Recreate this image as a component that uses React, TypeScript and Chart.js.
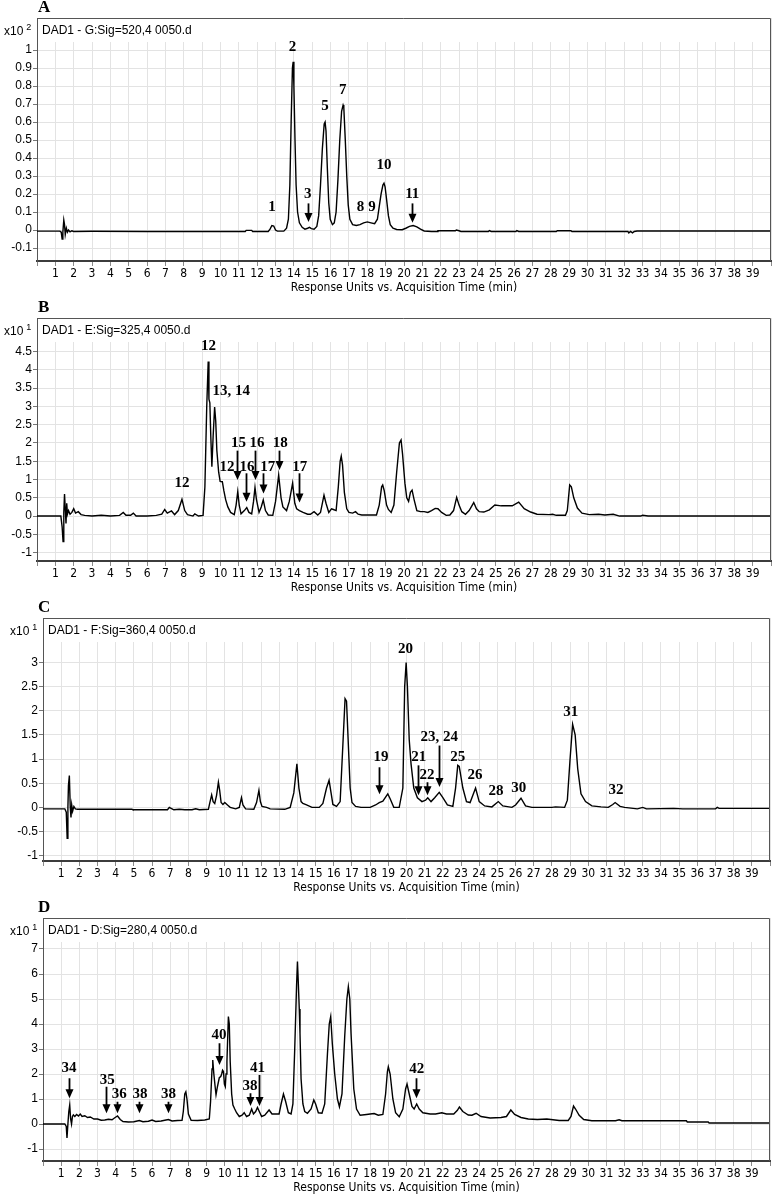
import React, { useEffect, useRef } from 'react';
import { Chart, registerables } from 'chart.js';

Chart.register(...registerables);

// ---------- tick labels ----------
const timeTickLabels = [
  1, 2, 3, 4, 5, 6, 7, 8, 9, 10, 11, 12, 13, 14, 15, 16, 17, 18, 19, 20,
  21, 22, 23, 24, 25, 26, 27, 28, 29, 30, 31, 32, 33, 34, 35, 36, 37, 38, 39,
];
const yTicksA = [-0.1, 0, 0.1, 0.2, 0.3, 0.4, 0.5, 0.6, 0.7, 0.8, 0.9, 1];
const yTicksB = [-1, -0.5, 0, 0.5, 1, 1.5, 2, 2.5, 3, 3.5, 4, 4.5];
const yTicksC = [-1, -0.5, 0, 0.5, 1, 1.5, 2, 2.5, 3];
const yTicksD = [-1, 0, 1, 2, 3, 4, 5, 6, 7];

// ---------- traces: [time (min), response] ----------
const traceA: [number, number][] = [
  [0, -0.006], [1.25, -0.006], [1.32, -0.012], [1.37, -0.05], [1.41, -0.01], [1.46, 0.055],
  [1.5, 0.03], [1.54, -0.025], [1.6, 0.01], [1.66, -0.012], [1.72, 0.0], [1.8, -0.01],
  [1.9, -0.004], [2.0, -0.008], [3, -0.007], [6, -0.008], [11.35, -0.008], [11.4, -0.002],
  [11.7, -0.002], [11.75, -0.008], [12.6, -0.008], [12.7, 0.005], [12.8, 0.025], [12.9, 0.022],
  [13.0, 0.0], [13.1, -0.006], [13.45, -0.006], [13.6, 0.01], [13.7, 0.06], [13.78, 0.25],
  [13.85, 0.6], [13.92, 0.9], [13.96, 0.935], [14.0, 0.8], [14.06, 0.5], [14.12, 0.25],
  [14.2, 0.1], [14.3, 0.04], [14.45, 0.015], [14.6, 0.005], [14.75, 0.01], [14.85, 0.015],
  [14.95, 0.008], [15.1, 0.005], [15.25, 0.02], [15.35, 0.08], [15.45, 0.25], [15.55, 0.45],
  [15.65, 0.59], [15.7, 0.6], [15.75, 0.55], [15.82, 0.35], [15.9, 0.15], [15.98, 0.06],
  [16.1, 0.03], [16.2, 0.04], [16.3, 0.1], [16.4, 0.28], [16.5, 0.5], [16.6, 0.66],
  [16.68, 0.694], [16.72, 0.68], [16.8, 0.5], [16.88, 0.3], [16.96, 0.14], [17.05, 0.06],
  [17.2, 0.03], [17.4, 0.025], [17.6, 0.03], [17.8, 0.04], [18.0, 0.045], [18.2, 0.04],
  [18.4, 0.035], [18.55, 0.06], [18.65, 0.13], [18.75, 0.2], [18.85, 0.25], [18.91, 0.26],
  [18.97, 0.24], [19.05, 0.17], [19.15, 0.08], [19.25, 0.03], [19.4, 0.01], [19.6, 0.003],
  [19.9, 0.002], [20.1, 0.01], [20.3, 0.02], [20.5, 0.025], [20.7, 0.018], [20.9, 0.005],
  [21.1, -0.005], [21.5, -0.008], [21.8, -0.008], [21.85, -0.004], [22.8, -0.004], [22.85, 0.0],
  [23.0, -0.004], [23.1, -0.008], [24.6, -0.008], [24.65, -0.003], [24.75, -0.008], [26.1, -0.008],
  [26.15, -0.003], [26.25, -0.008], [28.3, -0.008], [28.35, -0.004], [29.1, -0.004], [29.15, -0.008],
  [32.2, -0.008], [32.25, -0.016], [32.35, -0.008], [32.45, -0.016], [32.55, -0.008], [32.7, -0.005],
  [40, -0.005],
];

const traceB: [number, number][] = [
  [0, 0.0], [1.3, 0.0], [1.37, -0.3], [1.42, -0.7], [1.46, 0.1], [1.5, 0.6], [1.54, 0.2],
  [1.58, -0.2], [1.62, 0.35], [1.66, 0.05], [1.72, 0.15], [1.8, 0.05], [1.9, 0.1], [2.0, 0.2],
  [2.1, 0.08], [2.25, 0.12], [2.4, 0.04], [2.6, 0.02], [3.0, 0.0], [3.5, 0.02], [4.0, 0.0],
  [4.5, 0.02], [4.7, 0.1], [4.85, 0.02], [5.1, 0.02], [5.25, 0.08], [5.4, 0.0], [6.0, 0.0],
  [6.5, 0.02], [6.8, 0.05], [6.96, 0.18], [7.1, 0.08], [7.33, 0.14], [7.5, 0.04], [7.7, 0.15],
  [7.9, 0.46], [8.05, 0.15], [8.2, 0.04], [8.5, 0.0], [8.6, 0.06], [8.8, 0.0], [9.05, 0.02],
  [9.15, 0.8], [9.25, 3.0], [9.33, 4.23], [9.37, 3.2], [9.42, 3.1], [9.47, 2.2], [9.53, 1.35],
  [9.6, 2.2], [9.68, 2.98], [9.74, 2.6], [9.8, 1.8], [9.9, 1.2], [9.98, 0.95], [10.1, 0.94],
  [10.18, 0.7], [10.28, 0.45], [10.4, 0.25], [10.55, 0.1], [10.75, 0.04], [10.85, 0.3],
  [10.94, 0.67], [11.02, 0.3], [11.12, 0.06], [11.3, 0.15], [11.43, 0.23], [11.55, 0.1],
  [11.7, 0.06], [11.8, 0.4], [11.88, 0.78], [11.96, 0.45], [12.1, 0.1], [12.22, 0.25],
  [12.33, 0.44], [12.45, 0.15], [12.6, 0.03], [12.85, 0.02], [13.0, 0.4], [13.17, 1.12],
  [13.3, 0.5], [13.4, 0.25], [13.6, 0.15], [13.75, 0.4], [13.93, 0.9], [14.05, 0.35],
  [14.15, 0.2], [14.3, 0.15], [14.5, 0.1], [14.75, 0.05], [14.9, 0.05], [15.1, 0.12],
  [15.3, 0.03], [15.45, 0.1], [15.55, 0.35], [15.64, 0.57], [15.75, 0.35], [15.9, 0.1],
  [16.05, 0.2], [16.15, 0.18], [16.3, 0.15], [16.42, 0.8], [16.52, 1.5], [16.58, 1.64],
  [16.65, 1.4], [16.75, 0.65], [16.88, 0.2], [17.0, 0.1], [17.2, 0.08], [17.36, 0.12],
  [17.5, 0.05], [17.7, 0.03], [18.5, 0.03], [18.65, 0.3], [18.78, 0.8], [18.84, 0.85],
  [18.92, 0.7], [19.05, 0.3], [19.15, 0.18], [19.3, 0.1], [19.45, 0.3], [19.6, 1.2],
  [19.75, 2.0], [19.84, 2.08], [19.92, 1.7], [20.05, 0.9], [20.15, 0.5], [20.25, 0.4],
  [20.35, 0.65], [20.44, 0.71], [20.55, 0.45], [20.7, 0.15], [20.9, 0.12], [21.1, 0.12],
  [21.3, 0.1], [21.5, 0.15], [21.7, 0.21], [21.85, 0.2], [22.05, 0.1], [22.3, 0.02],
  [22.5, 0.03], [22.7, 0.15], [22.87, 0.51], [23.0, 0.3], [23.15, 0.12], [23.35, 0.05],
  [23.55, 0.15], [23.8, 0.37], [23.95, 0.2], [24.1, 0.12], [24.35, 0.11], [24.65, 0.17],
  [24.95, 0.3], [25.3, 0.28], [25.9, 0.28], [26.25, 0.38], [26.55, 0.2], [26.9, 0.11],
  [27.25, 0.05], [27.9, 0.04], [28.1, 0.05], [28.3, 0.02], [28.8, 0.02], [28.9, 0.15],
  [29.03, 0.85], [29.12, 0.8], [29.25, 0.5], [29.45, 0.22], [29.7, 0.08], [30.1, 0.04],
  [30.6, 0.05], [30.95, 0.03], [31.4, 0.05], [31.75, 0.0], [32.9, 0.0], [33.0, 0.02],
  [33.3, 0.0], [40, 0.0],
];

const traceC: [number, number][] = [
  [0, -0.03], [1.2, -0.03], [1.28, -0.1], [1.33, -0.64], [1.37, 0.0], [1.4, 0.45], [1.45, 0.66],
  [1.5, 0.0], [1.54, -0.21], [1.58, 0.05], [1.63, -0.08], [1.7, 0.02], [1.78, -0.03],
  [1.9, -0.04], [4.9, -0.04], [4.95, -0.05], [6.85, -0.05], [6.95, 0.0], [7.1, -0.03],
  [7.2, -0.05], [7.5, -0.04], [7.8, -0.05], [8.2, -0.05], [8.4, -0.03], [8.6, -0.05],
  [9.1, -0.04], [9.18, 0.1], [9.28, 0.26], [9.36, 0.12], [9.45, 0.08], [9.55, 0.25],
  [9.65, 0.52], [9.72, 0.35], [9.8, 0.1], [9.9, 0.06], [10.0, 0.1], [10.15, 0.05], [10.3, 0.0],
  [10.6, -0.03], [10.8, 0.0], [10.92, 0.2], [11.0, 0.05], [11.15, -0.03], [11.6, -0.04],
  [11.75, 0.1], [11.88, 0.35], [11.96, 0.12], [12.05, 0.02], [12.3, 0.0], [12.5, -0.03],
  [13.3, -0.04], [13.6, 0.0], [13.8, 0.3], [13.97, 0.9], [14.08, 0.4], [14.2, 0.12],
  [14.3, 0.08], [14.5, 0.05], [14.8, 0.0], [15.2, 0.0], [15.4, 0.08], [15.6, 0.4],
  [15.74, 0.56], [15.85, 0.3], [15.95, 0.06], [16.15, 0.02], [16.35, 0.12], [16.5, 1.3],
  [16.62, 2.25], [16.7, 2.2], [16.8, 1.3], [16.9, 0.4], [17.0, 0.1], [17.2, 0.02], [17.5, 0.0],
  [18.0, 0.0], [18.3, 0.05], [18.5, 0.1], [18.7, 0.13], [18.97, 0.28], [19.1, 0.18],
  [19.3, 0.0], [19.6, 0.0], [19.8, 0.4], [19.9, 2.5], [19.98, 3.0], [20.05, 2.5], [20.15, 1.4],
  [20.25, 0.9], [20.4, 0.4], [20.6, 0.2], [20.85, 0.12], [21.05, 0.15], [21.17, 0.2],
  [21.35, 0.12], [21.55, 0.2], [21.8, 0.31], [22.0, 0.2], [22.25, 0.05], [22.55, 0.02],
  [22.7, 0.4], [22.82, 0.87], [22.9, 0.85], [23.1, 0.4], [23.3, 0.12], [23.5, 0.1],
  [23.8, 0.4], [24.0, 0.12], [24.3, 0.03], [24.7, 0.01], [25.05, 0.12], [25.3, 0.03],
  [25.8, 0.0], [26.0, 0.05], [26.3, 0.19], [26.55, 0.03], [26.9, 0.0], [28.0, 0.0],
  [28.2, 0.01], [28.7, 0.0], [28.85, 0.15], [29.0, 1.0], [29.14, 1.72], [29.28, 1.5],
  [29.42, 0.8], [29.6, 0.28], [29.85, 0.12], [30.2, 0.03], [30.7, 0.01], [31.1, 0.0],
  [31.35, 0.06], [31.48, 0.1], [31.75, 0.02], [32.0, 0.0], [32.7, -0.03], [33.0, 0.0],
  [33.2, -0.03], [34.7, -0.02], [35.2, -0.03], [37.0, -0.03], [37.1, 0.0], [37.2, -0.02],
  [40, -0.02],
];

const traceD: [number, number][] = [
  [0, 0.0], [1.2, 0.0], [1.28, -0.1], [1.32, -0.56], [1.37, 0.0], [1.42, 0.5], [1.47, 0.76],
  [1.52, 0.2], [1.57, 0.0], [1.62, 0.3], [1.67, 0.36], [1.75, 0.3], [1.85, 0.38], [1.95, 0.32],
  [2.05, 0.4], [2.15, 0.3], [2.3, 0.33], [2.45, 0.26], [2.6, 0.28], [2.8, 0.2], [3.0, 0.2],
  [3.2, 0.15], [3.4, 0.16], [3.6, 0.19], [3.8, 0.17], [3.95, 0.25], [4.1, 0.32], [4.25, 0.18],
  [4.4, 0.1], [4.7, 0.08], [5.0, 0.09], [5.3, 0.14], [5.5, 0.09], [5.8, 0.11], [6.0, 0.16],
  [6.2, 0.1], [6.5, 0.12], [6.9, 0.18], [7.1, 0.12], [7.4, 0.14], [7.65, 0.15], [7.72, 0.5],
  [7.8, 1.2], [7.86, 1.29], [7.92, 1.0], [8.0, 0.4], [8.15, 0.15], [8.5, 0.14], [8.9, 0.16],
  [9.15, 0.2], [9.22, 0.9], [9.3, 2.2], [9.34, 2.56], [9.4, 2.0], [9.47, 1.5], [9.52, 1.17],
  [9.6, 1.5], [9.7, 1.85], [9.78, 1.9], [9.83, 2.0], [9.88, 2.15], [9.93, 2.1], [9.98, 1.6],
  [10.03, 1.5], [10.07, 2.0], [10.12, 2.5], [10.2, 4.3], [10.25, 4.0], [10.3, 2.5],
  [10.38, 1.2], [10.45, 0.76], [10.55, 0.6], [10.65, 0.45], [10.8, 0.3], [10.95, 0.35],
  [11.07, 0.45], [11.2, 0.3], [11.35, 0.35], [11.48, 0.6], [11.58, 0.4], [11.7, 0.5],
  [11.8, 0.66], [11.9, 0.5], [12.03, 0.3], [12.2, 0.35], [12.44, 0.56], [12.6, 0.4],
  [12.8, 0.4], [12.99, 0.4], [13.1, 0.8], [13.23, 1.2], [13.35, 0.9], [13.5, 0.45],
  [13.65, 0.4], [13.75, 0.8], [13.85, 3.0], [13.95, 5.5], [14.0, 6.5], [14.05, 5.6],
  [14.1, 4.6], [14.14, 3.63], [14.2, 1.8], [14.3, 0.8], [14.4, 0.5], [14.55, 0.43],
  [14.75, 0.6], [14.9, 0.96], [15.0, 0.8], [15.15, 0.45], [15.35, 0.43], [15.5, 0.8],
  [15.65, 2.8], [15.75, 4.0], [15.83, 4.3], [15.92, 3.2], [16.05, 2.0], [16.2, 1.0],
  [16.31, 0.69], [16.45, 1.2], [16.6, 3.5], [16.72, 5.0], [16.8, 5.49], [16.88, 5.0],
  [16.95, 3.6], [17.1, 1.4], [17.25, 0.6], [17.45, 0.35], [17.8, 0.38], [18.0, 0.4],
  [18.22, 0.42], [18.45, 0.35], [18.7, 0.38], [18.85, 1.2], [18.95, 2.1], [19.0, 2.29],
  [19.1, 2.0], [19.25, 1.0], [19.4, 0.45], [19.6, 0.29], [19.8, 0.6], [19.95, 1.4],
  [20.03, 1.6], [20.15, 1.2], [20.3, 0.7], [20.42, 0.6], [20.56, 0.8], [20.7, 0.6],
  [20.9, 0.45], [21.3, 0.4], [21.6, 0.4], [21.94, 0.45], [22.2, 0.4], [22.6, 0.4],
  [22.8, 0.55], [22.91, 0.68], [23.1, 0.5], [23.4, 0.36], [23.6, 0.35], [23.83, 0.43],
  [24.1, 0.3], [24.6, 0.24], [25.2, 0.26], [25.5, 0.3], [25.74, 0.56], [25.95, 0.38],
  [26.3, 0.26], [26.7, 0.2], [27.2, 0.18], [27.72, 0.2], [28.4, 0.14], [28.9, 0.14],
  [29.05, 0.3], [29.19, 0.72], [29.3, 0.6], [29.5, 0.35], [29.75, 0.18], [30.2, 0.13],
  [31.5, 0.13], [31.7, 0.17], [31.85, 0.13], [35.4, 0.13], [35.45, 0.08], [36.6, 0.08],
  [36.65, 0.04], [40, 0.04],
];

// ---------- peak annotations (time, response; optional arrow) ----------
type Note = { text: string; t: number; v: number; arrowT?: number; arrowFrom?: number; arrowTo?: number };

const notesA: Note[] = [
  { text: '1', t: 12.8, v: 0.126 },
  { text: '2', t: 13.92, v: 1.018 },
  { text: '3', t: 14.75, v: 0.2, arrowT: 14.75, arrowFrom: 0.148, arrowTo: 0.045 },
  { text: '5', t: 15.7, v: 0.689 },
  { text: '7', t: 16.66, v: 0.778 },
  { text: '8', t: 17.63, v: 0.126 },
  { text: '9', t: 18.25, v: 0.126 },
  { text: '10', t: 18.91, v: 0.361 },
  { text: '11', t: 20.45, v: 0.2, arrowT: 20.45, arrowFrom: 0.148, arrowTo: 0.04 },
];

const notesB: Note[] = [
  { text: '12', t: 7.9, v: 0.91 },
  { text: '12', t: 9.35, v: 4.64 },
  { text: '13, 14', t: 10.58, v: 3.41 },
  { text: '12', t: 10.36, v: 1.35 },
  { text: '15', t: 10.98, v: 1.99, arrowT: 10.91, arrowFrom: 1.79, arrowTo: 0.99 },
  { text: '16', t: 11.45, v: 1.35, arrowT: 11.39, arrowFrom: 1.17, arrowTo: 0.39 },
  { text: '16', t: 11.99, v: 1.99, arrowT: 11.9, arrowFrom: 1.79, arrowTo: 0.99 },
  { text: '17', t: 12.57, v: 1.35, arrowT: 12.33, arrowFrom: 1.17, arrowTo: 0.62 },
  { text: '18', t: 13.26, v: 1.99, arrowT: 13.17, arrowFrom: 1.79, arrowTo: 1.26 },
  { text: '17', t: 14.32, v: 1.35, arrowT: 14.29, arrowFrom: 1.17, arrowTo: 0.37 },
];

const notesC: Note[] = [
  { text: '19', t: 18.6, v: 1.05, arrowT: 18.51, arrowFrom: 0.83, arrowTo: 0.27 },
  { text: '20', t: 19.94, v: 3.27 },
  { text: '21', t: 20.67, v: 1.03, arrowT: 20.62, arrowFrom: 0.87, arrowTo: 0.25 },
  { text: '22', t: 21.13, v: 0.66, arrowT: 21.11, arrowFrom: 0.52, arrowTo: 0.25 },
  { text: '23, 24', t: 21.8, v: 1.45, arrowT: 21.77, arrowFrom: 1.28, arrowTo: 0.42 },
  { text: '25', t: 22.82, v: 1.03 },
  { text: '26', t: 23.77, v: 0.66 },
  { text: '28', t: 24.92, v: 0.34 },
  { text: '30', t: 26.17, v: 0.4 },
  { text: '31', t: 29.04, v: 1.97 },
  { text: '32', t: 31.52, v: 0.36 },
];

const notesD: Note[] = [
  { text: '34', t: 1.43, v: 2.23, arrowT: 1.45, arrowFrom: 1.83, arrowTo: 1.03 },
  { text: '35', t: 3.54, v: 1.76, arrowT: 3.48, arrowFrom: 1.49, arrowTo: 0.43 },
  { text: '36', t: 4.2, v: 1.2, arrowT: 4.08, arrowFrom: 0.89, arrowTo: 0.43 },
  { text: '38', t: 5.34, v: 1.2, arrowT: 5.3, arrowFrom: 0.89, arrowTo: 0.43 },
  { text: '38', t: 6.9, v: 1.2, arrowT: 6.87, arrowFrom: 0.89, arrowTo: 0.43 },
  { text: '40', t: 9.69, v: 3.56, arrowT: 9.69, arrowFrom: 3.23, arrowTo: 2.36 },
  { text: '38', t: 11.39, v: 1.53, arrowT: 11.39, arrowFrom: 1.23, arrowTo: 0.72 },
  { text: '41', t: 11.8, v: 2.23, arrowT: 11.87, arrowFrom: 1.96, arrowTo: 0.72 },
  { text: '42', t: 20.56, v: 2.19, arrowT: 20.53, arrowFrom: 1.83, arrowTo: 1.03 },
];

// ---------- fonts ----------
const SANS = '"Liberation Sans", Arial, sans-serif';
const NARROW = '"Liberation Sans Narrow", "Arial Narrow", "DejaVu Sans Condensed", sans-serif';
const SERIF = '"Liberation Serif", "Times New Roman", serif';

type Panel = {
  letter: string;
  signal: string;
  exponent: string;
  trace: [number, number][];
  yTicks: number[];
  yMin: number;
  yMax: number;
  notes: Note[];
  axisWidth: number;
  rightPad: number;
};

const panels: Panel[] = [
  { letter: 'A', signal: 'DAD1 - G:Sig=520,4 0050.d', exponent: '2', trace: traceA, yTicks: yTicksA, yMin: -0.172, yMax: 1.178, notes: notesA, axisWidth: 37, rightPad: 3 },
  { letter: 'B', signal: 'DAD1 - E:Sig=325,4 0050.d', exponent: '1', trace: traceB, yTicks: yTicksB, yMin: -1.23, yMax: 5.42, notes: notesB, axisWidth: 37, rightPad: 3 },
  { letter: 'C', signal: 'DAD1 - F:Sig=360,4 0050.d', exponent: '1', trace: traceC, yTicks: yTicksC, yMin: -1.11, yMax: 3.92, notes: notesC, axisWidth: 43, rightPad: 4 },
  { letter: 'D', signal: 'DAD1 - D:Sig=280,4 0050.d', exponent: '1', trace: traceD, yTicks: yTicksD, yMin: -1.48, yMax: 8.24, notes: notesD, axisWidth: 43, rightPad: 4 },
];

const HEADER_STRIP = 24;

function ChromatogramPanel({ panel }: { panel: Panel }) {
  const ref = useRef<HTMLCanvasElement | null>(null);

  useEffect(() => {
    const canvas = ref.current;
    if (!canvas) return;

    const overlay = {
      id: 'overlay',
      beforeDatasetsDraw(chart: any) {
        const { ctx, chartArea: a } = chart;
        ctx.save();
        ctx.fillStyle = '#ffffff';
        ctx.fillRect(a.left + 1, a.top, a.right - a.left - 2, HEADER_STRIP);
        ctx.restore();
      },
      afterDatasetsDraw(chart: any) {
        const { ctx, chartArea: a, scales } = chart;
        const xs = scales.x;
        const ys = scales.y;
        ctx.save();
        // frame: top and right edges
        ctx.strokeStyle = '#555555';
        ctx.lineWidth = 1;
        ctx.beginPath();
        ctx.moveTo(a.left, a.top + 0.5);
        ctx.lineTo(a.right - 0.5, a.top + 0.5);
        ctx.lineTo(a.right - 0.5, a.bottom);
        ctx.stroke();

        // header signal text
        ctx.fillStyle = '#000000';
        ctx.textBaseline = 'middle';
        ctx.textAlign = 'left';
        ctx.font = `12px ${SANS}`;
        ctx.fillText(panel.signal, a.left + 5, a.top + 13);

        // exponent "x10^n"
        const ex = a.left - 33;
        ctx.font = `12px ${SANS}`;
        ctx.fillText('x10', ex, a.top + 14);
        const w = ctx.measureText('x10').width;
        ctx.font = `9px ${SANS}`;
        ctx.fillText(panel.exponent, ex + w + 3, a.top + 10);

        // panel letter
        ctx.font = `bold 17px ${SERIF}`;
        ctx.fillText(panel.letter, 38, a.top - 10);

        // peak annotations
        ctx.font = `bold 15px ${SERIF}`;
        ctx.textAlign = 'center';
        for (const n of panel.notes) {
          ctx.fillText(n.text, xs.getPixelForValue(n.t), ys.getPixelForValue(n.v));
          if (n.arrowT !== undefined && n.arrowFrom !== undefined && n.arrowTo !== undefined) {
            const x = Math.round(xs.getPixelForValue(n.arrowT)) + 0.5;
            const y1 = ys.getPixelForValue(n.arrowFrom);
            const y2 = ys.getPixelForValue(n.arrowTo);
            const head = 9;
            ctx.strokeStyle = '#000000';
            ctx.lineWidth = 1.8;
            ctx.beginPath();
            ctx.moveTo(x, y1);
            ctx.lineTo(x, y2 - head + 1);
            ctx.stroke();
            ctx.beginPath();
            ctx.moveTo(x - 4, y2 - head);
            ctx.lineTo(x + 4, y2 - head);
            ctx.lineTo(x, y2);
            ctx.closePath();
            ctx.fill();
          }
        }
        ctx.restore();
      },
    };

    const chart = new Chart(canvas, {
      type: 'line',
      data: {
        datasets: [
          {
            data: panel.trace.map(([t, v]) => ({ x: t, y: v })),
            borderColor: '#000000',
            borderWidth: 1.4,
            pointRadius: 0,
            tension: 0,
            fill: false,
          },
        ],
      },
      options: {
        animation: false,
        responsive: false,
        devicePixelRatio: 1,
        events: [],
        layout: { padding: { top: 18, right: panel.rightPad, bottom: 0, left: 0 } },
        plugins: {
          legend: { display: false },
          tooltip: { enabled: false },
          title: { display: false },
        },
        scales: {
          x: {
            type: 'linear',
            min: 0,
            max: 40,
            afterBuildTicks: (s: any) => {
              s.ticks = Array.from({ length: 41 }, (_, i) => ({ value: i }));
            },
            afterFit: (s: any) => {
              s.height = 39;
            },
            ticks: {
              autoSkip: false,
              maxRotation: 0,
              minRotation: 0,
              padding: 1,
              color: '#000000',
              font: { family: NARROW, size: 12 },
              callback: (v: any) => (timeTickLabels.includes(Number(v)) ? String(v) : ''),
            },
            grid: { color: '#e3e3e3', lineWidth: 1, tickLength: 5, tickColor: '#8a8a8a' },
            border: { display: true, color: '#3c3c3c', width: 2 },
            title: {
              display: true,
              text: 'Response Units vs. Acquisition Time (min)',
              color: '#000000',
              font: { family: NARROW, size: 12 },
              padding: { top: 0, bottom: 5 },
            },
          },
          y: {
            type: 'linear',
            min: panel.yMin,
            max: panel.yMax,
            afterBuildTicks: (s: any) => {
              s.ticks = panel.yTicks.map((v) => ({ value: v }));
            },
            afterFit: (s: any) => {
              s.width = panel.axisWidth;
            },
            ticks: {
              padding: 1,
              color: '#000000',
              font: { family: SANS, size: 12 },
              callback: (v: any) => String(v),
            },
            grid: { color: '#e3e3e3', lineWidth: 1, tickLength: 4, tickColor: '#777777' },
            border: { display: true, color: '#555555', width: 1 },
          },
        },
      },
      plugins: [overlay],
    } as any);

    return () => chart.destroy();
  }, [panel]);

  return <canvas ref={ref} width={774} height={300} style={{ display: 'block', width: 774, height: 300 }} />;
}

export default function App() {
  return (
    <div style={{ position: 'absolute', left: 0, top: 0, width: 774, height: 1200, background: '#ffffff' }}>
      {panels.map((p) => (
        <ChromatogramPanel key={p.letter} panel={p} />
      ))}
    </div>
  );
}
